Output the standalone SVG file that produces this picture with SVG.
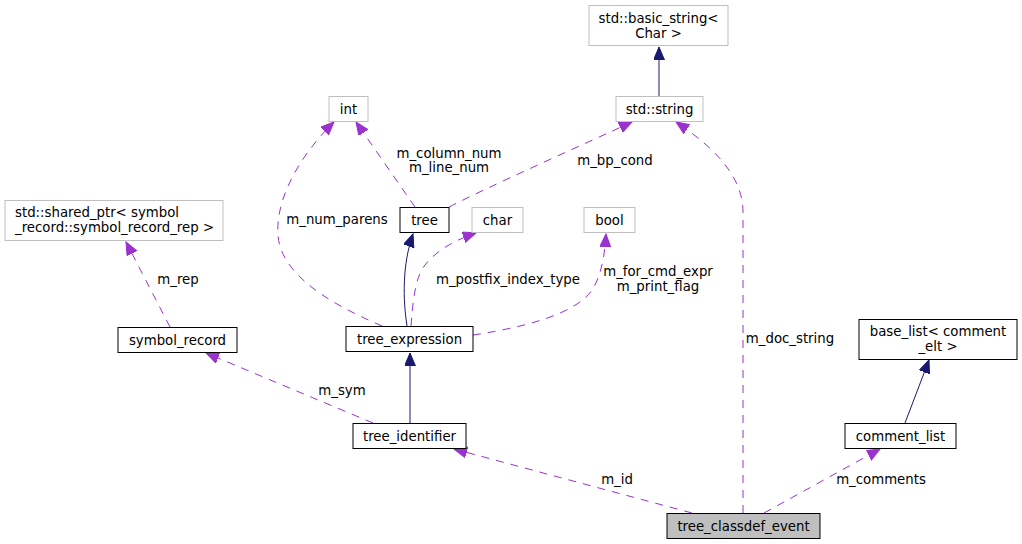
<svg xmlns="http://www.w3.org/2000/svg" width="1022" height="544" viewBox="0 0 1022 544">
<defs>
<style>
text{font-family:"DejaVu Sans","Liberation Sans",sans-serif;font-size:13.3px;fill:#000}
.n{fill:#fff;stroke:#000;stroke-width:1}
.u{fill:#fff;stroke:#bfbfbf;stroke-width:1}
.h{fill:#bfbfbf;stroke:#000;stroke-width:1}
.c{text-anchor:middle}
.d{fill:none;stroke:#9a32cd;stroke-width:1;stroke-dasharray:8,7;marker-end:url(#ap)}
.s{fill:none;stroke:#191970;stroke-width:1;marker-end:url(#an)}
</style>
<marker id="ap" markerUnits="userSpaceOnUse" markerWidth="14" markerHeight="13" refX="13" refY="5.5" orient="auto" viewBox="0 0 14 13"><path d="M0,0 L13,5.5 L0,11 z" fill="#9a32cd" stroke="#9a32cd"/></marker>
<marker id="an" markerUnits="userSpaceOnUse" markerWidth="14" markerHeight="13" refX="13" refY="5.5" orient="auto" viewBox="0 0 14 13"><path d="M0,0 L13,5.5 L0,11 z" fill="#191970" stroke="#191970"/></marker>
</defs>
<rect width="1022" height="544" fill="#fff"/>
<g id="connectors">
<path class="s" d="M659,96 L659,47"/>
<path class="d" d="M415,207 L356,122"/>
<text class="c" x="449" y="158">m_column_num</text>
<text class="c" x="449" y="172">m_line_num</text>
<path class="d" d="M449,207 C490,186 580,146 632,122"/>
<text class="c" x="615" y="165">m_bp_cond</text>
<path class="d" d="M382,326 C345,310 281,280 278,235 C275,195 305,150 334,122"/>
<text class="c" x="337" y="224">m_num_parens</text>
<path class="s" d="M407,326 C403,300 402,265 413,234"/>
<path class="d" d="M411,326 C413,300 415,278 425,265 C437,250 455,240 476,233"/>
<text class="c" x="508" y="284">m_postfix_index_type</text>
<path class="d" d="M473,335 C520,328 575,315 592,290 C602,275 605,252 606,234"/>
<text class="c" x="658" y="276">m_for_cmd_expr</text>
<text class="c" x="658" y="291">m_print_flag</text>
<path class="d" d="M170,327 L126,242"/>
<text class="c" x="178" y="284">m_rep</text>
<path class="d" d="M373,423 L206,353"/>
<text class="c" x="342" y="395">m_sym</text>
<path class="s" d="M410,423 L410,353"/>
<path class="d" d="M692,513 L454,449"/>
<text class="c" x="617" y="484">m_id</text>
<path class="d" d="M743,513 L743,212 C743,175 712,146 676,122"/>
<text class="c" x="790" y="343">m_doc_string</text>
<path class="d" d="M764,513 L880,449"/>
<text class="c" x="881" y="484">m_comments</text>
<path class="s" d="M905,423 L929,360"/>
</g>
<g id="node_basic_string"><rect class="u" x="589" y="5.5" width="139" height="40"/><text class="c" x="658.5" y="22.5">std::basic_string&lt;</text><text class="c" x="658.5" y="37.5">Char &gt;</text></g>
<g id="node_std_string"><rect class="u" x="616" y="96.5" width="87" height="25"/><text class="c" x="659.5" y="113.5">std::string</text></g>
<g id="node_int"><rect class="u" x="329" y="96.5" width="39" height="25"/><text class="c" x="348.5" y="113.5">int</text></g>
<g id="node_tree"><rect class="n" x="400" y="207.5" width="49" height="25"/><text class="c" x="424.5" y="224.5">tree</text></g>
<g id="node_char"><rect class="u" x="472" y="207.5" width="51" height="25"/><text class="c" x="497.5" y="224.5">char</text></g>
<g id="node_bool"><rect class="u" x="584" y="207.5" width="51" height="25"/><text class="c" x="609.5" y="224.5">bool</text></g>
<g id="node_shared_ptr"><rect class="u" x="5" y="200.5" width="218" height="40"/><text x="15" y="217">std::shared_ptr&lt; symbol</text><text x="15" y="231.5">_record::symbol_record_rep &gt;</text></g>
<g id="node_symbol_record"><rect class="n" x="118" y="327.5" width="119" height="25"/><text class="c" x="177.5" y="344.5">symbol_record</text></g>
<g id="node_tree_expression"><rect class="n" x="346" y="326.5" width="127" height="25"/><text class="c" x="409.5" y="343.5">tree_expression</text></g>
<g id="node_tree_identifier"><rect class="n" x="353" y="423.5" width="113" height="25"/><text class="c" x="409.5" y="440.5">tree_identifier</text></g>
<g id="node_tree_classdef_event"><rect class="h" x="667" y="513.5" width="153" height="25"/><text class="c" x="743.5" y="530.5">tree_classdef_event</text></g>
<g id="node_base_list"><rect class="n" x="859" y="319.5" width="158" height="40"/><text class="c" x="938" y="335.5">base_list&lt; comment</text><text class="c" x="938" y="350.5">_elt &gt;</text></g>
<g id="node_comment_list"><rect class="n" x="845" y="423.5" width="111" height="25"/><text class="c" x="900.5" y="440.5">comment_list</text></g>
</svg>
